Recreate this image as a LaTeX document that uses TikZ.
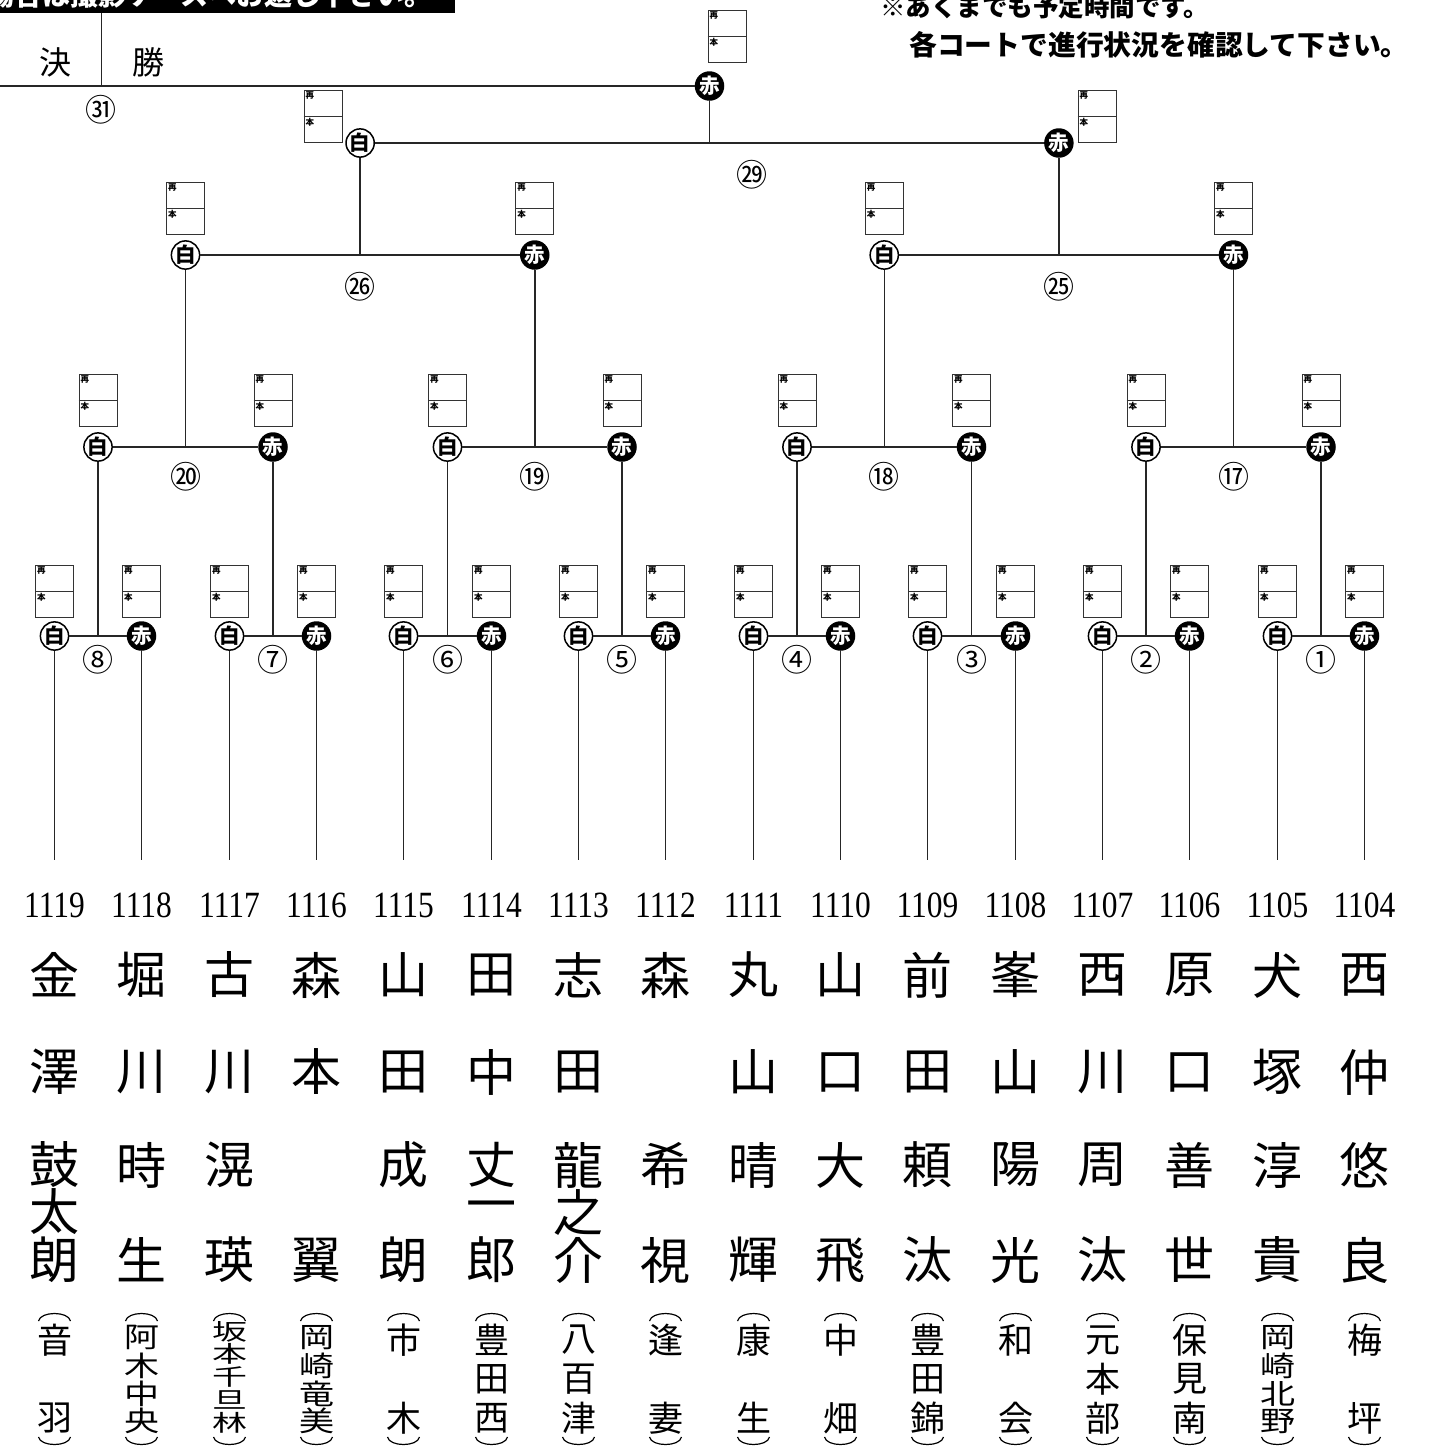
\documentclass[tikz,border=0pt]{standalone}
\usepackage{fontspec}
\setmainfont{Liberation Serif}
\newfontfamily\jp{Noto Sans CJK JP}
\usetikzlibrary{calc}
\tikzset{
 ln/.style={draw=black!85, line width=1.5pt},
 wc/.style={circle, draw=black, line width=1.5pt, fill=white, minimum size=28pt, inner sep=0pt, font=\jp\bfseries\fontsize{20.5}{20.5}\selectfont},
 rc/.style={circle, fill=black, text=white, minimum size=29.5pt, inner sep=0pt, font=\jp\bfseries\fontsize{20.5}{20.5}\selectfont},
 sbox/.style={rectangle, draw=black!80, line width=1pt, minimum width=38pt, minimum height=52pt, inner sep=0pt},
 slab/.style={font=\jp\bfseries\fontsize{8.5}{8.5}\selectfont, inner sep=1.8pt},
 rnd/.style={font=\jp\fontsize{31}{31}\selectfont, inner sep=0pt},
 num/.style={font=\fontsize{37}{37}\selectfont, inner sep=0pt},
 nm/.style={font=\jp\fontsize{50}{50}\selectfont, inner sep=0pt},
 sc/.style={font=\jp\fontsize{35}{35}\selectfont, inner sep=0pt},
 parl/.style={draw=black, line width=1.2pt},
 note/.style={font=\jp\bfseries\fontsize{27.8}{27.8}\selectfont, inner sep=0pt, anchor=base west},
 head/.style={font=\jp\fontsize{32}{32}\selectfont, inner sep=0pt},
}
\newcommand\mkscore[2]{%
 \node[sbox] (#1) at (#2) {};
 \draw[draw=black!80, line width=1pt] (#1.west) -- (#1.east);
 \node[slab, anchor=north west] at (#1.north west) {再};
 \node[slab, anchor=north west] at (#1.west) {本};
}
\newcommand\player[5]{%
 \pgfmathsetmacro\px{round(54+87.3333*#1)+0.5}
 \node[num] (n#1) at (\px,905) {\scalebox{0.85}[1]{#2}};
 \foreach \yy/\cc in {#3} {\node[nm] at (\px,\yy) {\cc};}
 \foreach \yy/\cc in {#4} {\node[sc] at (\px,\yy) {\scalebox{1}[#5]{\cc}};}
 \coordinate (pa#1) at (\px,1321);
 \coordinate (pb#1) at (\px,1437);
 \draw[parl] ($(pa#1)+(-16,0)$) .. controls ($(pa#1)+(-14,-10)$) and ($(pa#1)+(14,-10)$) .. ($(pa#1)+(16,0)$);
 \draw[parl] ($(pb#1)+(-16,0)$) .. controls ($(pb#1)+(-14,10)$) and ($(pb#1)+(14,10)$) .. ($(pb#1)+(16,0)$);
}
\begin{document}
\begin{tikzpicture}[x=1pt,y=-1pt]
\useasboundingbox (0,0) rectangle (1430,1451);
\clip (0,0) rectangle (1430,1451);
\fill[white] (0,0) rectangle (1430,1451);
\coordinate (y86) at (0,86);
\coordinate (y143) at (0,143);
\coordinate (y255) at (0,255);
\coordinate (y287) at (0,287);
\coordinate (y447) at (0,447);
\coordinate (y477) at (0,477);
\coordinate (y660) at (0,660);

% header
\fill[black] (0,0) rectangle (455,13);
\node[note, text=white, font=\jp\bfseries\fontsize{28}{28}\selectfont] (ban) at (-14,5) {場合は撮影ケースへお返し下さい。};
\coordinate (hv1) at (101.5,13);
\coordinate (hv2) at (101.5,86);
\draw[ln] (hv1) -- (hv2);
\node[head] (ke) at (55,62) {決};
\node[head] (sho) at (148,62) {勝};
\node[note, font=\jp\bfseries\fontsize{25.5}{25.5}\selectfont] (nt1) at (880,16) {※あくまでも予定時間です。};
\node[note] (nt2) at (909,55) {各コートで進行状況を確認して下さい。};

% round 1
\foreach \i in {0,...,15}{
  \pgfmathsetmacro\xx{round(54+87.3333*\i)+0.5}
  \ifodd\i \node[rc] (p\i) at (\xx,636) {赤}; \else \node[wc] (p\i) at (\xx,636) {白}; \fi
  \coordinate (e\i) at (\xx,860);
  \draw[ln] (p\i) -- (e\i);
  \mkscore{b\i}{\xx,591}
}
% round 1 matches
\foreach \k/\lab in {0/⑧,1/⑦,2/⑥,3/⑤,4/④,5/③,6/②,7/①}{
  \pgfmathtruncatemacro\a{2*\k}\pgfmathtruncatemacro\b{2*\k+1}
  \draw[ln] (p\a) -- (p\b);
  \coordinate (m\k) at ($(p\a)!0.5!(p\b)$);
  \ifodd\k \node[rc] (q\k) at (m\k |- y447) {赤}; \else \node[wc] (q\k) at (m\k |- y447) {白}; \fi
  \draw[ln] (m\k) -- (q\k);
  \node[rnd] (l\k) at (m\k |- y660) {\lab};
  \mkscore{c\k}{$(q\k)+(0,-47)$}
}
% round 2 matches
\foreach \j/\lab in {0/⑳,1/⑲,2/⑱,3/⑰}{
  \pgfmathtruncatemacro\a{2*\j}\pgfmathtruncatemacro\b{2*\j+1}
  \draw[ln] (q\a) -- (q\b);
  \coordinate (n\j) at ($(q\a)!0.5!(q\b)$);
  \ifodd\j \node[rc] (s\j) at (n\j |- y255) {赤}; \else \node[wc] (s\j) at (n\j |- y255) {白}; \fi
  \draw[ln] (n\j) -- (s\j);
  \node[rnd] (lq\j) at (n\j |- y477) {\lab};
  \mkscore{d\j}{$(s\j)+(0,-47)$}
}
% quarter final matches
\foreach \h/\lab in {0/㉖,1/㉕}{
  \pgfmathtruncatemacro\a{2*\h}\pgfmathtruncatemacro\b{2*\h+1}
  \draw[ln] (s\a) -- (s\b);
  \coordinate (o\h) at ($(s\a)!0.5!(s\b)$);
  \ifodd\h \node[rc] (t\h) at (o\h |- y143) {赤}; \else \node[wc] (t\h) at (o\h |- y143) {白}; \fi
  \draw[ln] (o\h) -- (t\h);
  \node[rnd] (ls\h) at (o\h |- y287) {\lab};
}
\mkscore{g0}{323,116}
\mkscore{g1}{1097,116}
% semi final
\draw[ln] (t0) -- (t1);
\coordinate (fm) at ($(t0)!0.5!(t1)$);
\node[rc] (f) at (fm |- y86) {赤};
\draw[ln] (fm) -- (f);
\coordinate (fl) at (0,86);
\draw[ln, line width=1.8pt] (f) -- (fl);
\mkscore{gf}{727,36}
\node[rnd] (l29) at (752,175) {㉙};
\node[rnd] (l31) at (101,110) {㉛};

% players
\player{0}{1119}{975/金,1072/澤,1165/鼓,1212/太,1260/朗}{1340/音,1418/羽}{1}
\player{1}{1118}{975/堀,1072/川,1165/時,1260/生}{1337.5/阿,1365.5/木,1393.5/中,1421/央}{0.8}
\player{2}{1117}{975/古,1072/川,1165/滉,1260/瑛}{1331.5/坂,1354/本,1377/千,1400/旦,1422.5/林}{0.65}
\player{3}{1116}{975/森,1072/本,1260/翼}{1337.5/岡,1365.5/崎,1393.5/竜,1421/美}{0.8}
\player{4}{1115}{975/山,1072/田,1165/成,1260/朗}{1340/市,1418/木}{1}
\player{5}{1114}{975/田,1072/中,1165/丈,1212/一,1260/郎}{1340/豊,1379/田,1418/西}{1}
\player{6}{1113}{975/志,1072/田,1165/龍,1212/之,1260/介}{1340/八,1379/百,1418/津}{1}
\player{7}{1112}{975/森,1165/希,1260/視}{1340/逢,1418/妻}{1}
\player{8}{1111}{975/丸,1072/山,1165/晴,1260/輝}{1340/康,1418/生}{1}
\player{9}{1110}{975/山,1072/口,1165/大,1260/飛}{1340/中,1418/畑}{1}
\player{10}{1109}{975/前,1072/田,1165/頼,1260/汰}{1340/豊,1379/田,1418/錦}{1}
\player{11}{1108}{975/峯,1072/山,1165/陽,1260/光}{1340/和,1418/会}{1}
\player{12}{1107}{975/西,1072/川,1165/周,1260/汰}{1340/元,1379/本,1418/部}{1}
\player{13}{1106}{975/原,1072/口,1165/善,1260/世}{1340/保,1379/見,1418/南}{1}
\player{14}{1105}{975/犬,1072/塚,1165/淳,1260/貴}{1337.5/岡,1365.5/崎,1393.5/北,1421/野}{0.8}
\player{15}{1104}{975/西,1072/仲,1165/悠,1260/良}{1340/梅,1418/坪}{1}
\end{tikzpicture}
\end{document}
